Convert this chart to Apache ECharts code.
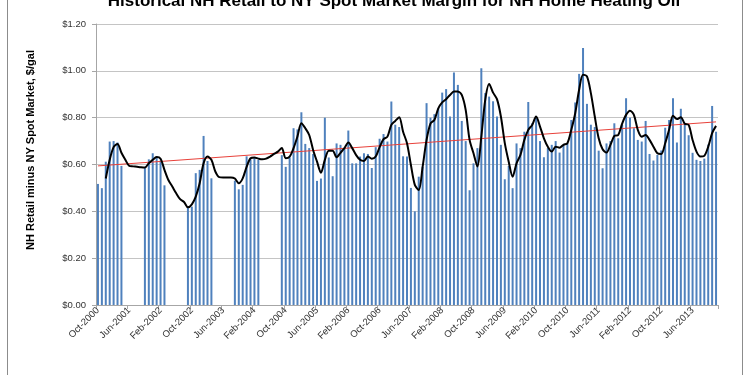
<!DOCTYPE html>
<html>
<head>
<meta charset="utf-8">
<script src="https://cdn.jsdelivr.net/npm/echarts@6/dist/echarts.min.js"></script>
<style>html,body{margin:0;padding:0;background:#fff}#c{width:750px;height:375px}</style>
</head>
<body>
<div id="c"></div>
<script>
// ---- categories (monthly, Oct-2000 .. Dec-2013) ----
const monthNames = ['Jan','Feb','Mar','Apr','May','Jun','Jul','Aug','Sep','Oct','Nov','Dec'];
const startYear = 2000, startMonthIndex = 9, monthCount = 159;
const categories = [];
for (let k = 0; k < monthCount; k++) {
  const m = startMonthIndex + k;
  categories.push(monthNames[m % 12] + '-' + (startYear + Math.floor(m / 12)));
}

// ---- monthly margin, $/gal (null = no data) ----
const margin = [
  0.517, 0.499, 0.612, 0.698, 0.700, 0.694, 0.594,
  null, null, null, null, null,
  0.588, 0.622, 0.648, 0.634, 0.617, 0.511,
  null, null, null, null, null,
  0.415, 0.420, 0.563, 0.577, 0.722, 0.615, 0.541,
  null, null, null, null, null,
  0.531, 0.494, 0.513, 0.635, 0.622, 0.630, 0.620,
  null, null, null, null, null,
  0.640, 0.590, 0.630,
  0.755, 0.750, 0.823, 0.688, 0.670, 0.645, 0.530, 0.540, 0.800, 0.630,
  0.550, 0.690, 0.684, 0.670, 0.745, 0.605, 0.605, 0.634, 0.648, 0.645,
  0.585, 0.674, 0.710, 0.730, 0.698, 0.869, 0.770, 0.760, 0.635, 0.634,
  0.500, 0.400, 0.548, 0.590, 0.862, 0.800, 0.815, 0.840, 0.907, 0.922,
  0.805, 0.993, 0.940, 0.786, 0.700, 0.490, 0.605, 0.670, 1.011, 0.905,
  0.890, 0.870, 0.805, 0.684, 0.537, 0.594, 0.499, 0.690, 0.670, 0.740,
  0.867, 0.776, 0.800, 0.700, 0.631, 0.670, 0.684, 0.700, 0.651, 0.684,
  0.690, 0.790, 0.865, 0.987, 1.097, 0.859, 0.770, 0.760, 0.659, 0.584,
  0.690, 0.700, 0.776, 0.712, 0.770, 0.883, 0.800, 0.755, 0.705, 0.698,
  0.786, 0.645, 0.617, 0.641, 0.660, 0.757, 0.790, 0.883, 0.694, 0.838,
  0.775, 0.725, 0.650, 0.620, 0.615, 0.625, 0.685, 0.850, 0.740
];

// ---- moving-average line ----
const movingAvg = [
  null, null, 0.540, 0.620, 0.674, 0.688, 0.650, 0.620, 0.594, 0.592,
  0.590, 0.588, 0.587, 0.605, 0.620, 0.632, 0.625, 0.577, 0.534, 0.506,
  0.477, 0.452, 0.440, 0.417, 0.430, 0.463, 0.520, 0.605, 0.634, 0.620,
  0.570, 0.546, 0.545, 0.545, 0.545, 0.540, 0.520, 0.541, 0.590, 0.627,
  0.630, 0.625, 0.622, 0.625, 0.634, 0.645, 0.655, 0.670, 0.627, 0.634,
  0.670, 0.720, 0.776, 0.755, 0.726, 0.662, 0.612, 0.565, 0.620, 0.659,
  0.659, 0.631, 0.650, 0.670, 0.694, 0.670, 0.640, 0.620, 0.615, 0.634,
  0.625, 0.634, 0.674, 0.708, 0.719, 0.769, 0.786, 0.802, 0.740, 0.691,
  0.598, 0.513, 0.491, 0.591, 0.705, 0.775, 0.790, 0.840, 0.865, 0.879,
  0.897, 0.912, 0.912, 0.897, 0.833, 0.705, 0.648, 0.591, 0.719, 0.876,
  0.944, 0.907, 0.879, 0.805, 0.691, 0.612, 0.548, 0.605, 0.641, 0.705,
  0.748, 0.769, 0.805, 0.762, 0.712, 0.676, 0.655, 0.676, 0.672, 0.684,
  0.691, 0.748, 0.819, 0.919, 0.983, 0.976, 0.905, 0.805, 0.712, 0.665,
  0.651, 0.684, 0.722, 0.726, 0.775, 0.812, 0.830, 0.812, 0.748, 0.719,
  0.726, 0.705, 0.676, 0.648, 0.645, 0.691, 0.748, 0.808, 0.794, 0.802,
  0.774, 0.769, 0.705, 0.655, 0.634, 0.637, 0.676, 0.734, 0.765
];

// ---- linear trend end points ----
const trendStart = 0.594, trendEnd = 0.782;
const trend = categories.map((c, i) => i === 0 ? trendStart : (i === monthCount - 1 ? trendEnd : null));

const titleText = 'Historical NH Retail to NY Spot Market Margin for NH Home Heating Oil';
const yAxisTitle = 'NH Retail minus NY Spot Market, $/gal';

const chart = echarts.init(document.getElementById('c'), null, {renderer: 'canvas'});
chart.setOption({
  animation: false,
  backgroundColor: '#fff',
  grid: {left: 96, right: 32, top: 24, bottom: 70, containLabel: false},
  graphic: [
    {type: 'rect', shape: {x: 7.5, y: -10, width: 735, height: 400}, style: {fill: 'none', stroke: '#8c8c8c', lineWidth: 1}, silent: true},
    {type: 'text', x: 394, y: 1, style: {text: titleText, font: 'bold 17px "Liberation Sans"', fill: '#000', align: 'center', verticalAlign: 'middle'}},
    {type: 'text', x: 31, y: 150, rotation: Math.PI / 2, style: {text: yAxisTitle, font: 'bold 11px "Liberation Sans"', fill: '#000', align: 'center', verticalAlign: 'middle'}}
  ],
  xAxis: {
    type: 'category',
    data: categories,
    boundaryGap: true,
    axisLine: {lineStyle: {color: '#a6a6a6', width: 1}},
    axisTick: {show: true, interval: 7, length: 4, alignWithLabel: false, lineStyle: {color: '#a6a6a6'}},
    axisLabel: {interval: 7, rotate: 45, margin: 4, fontFamily: 'Liberation Sans', fontSize: 9.5, color: '#333'},
    splitLine: {show: false}
  },
  yAxis: {
    type: 'value',
    min: 0, max: 1.2, interval: 0.2,
    axisLine: {show: true, lineStyle: {color: '#a6a6a6'}},
    axisTick: {show: true, length: 4, lineStyle: {color: '#a6a6a6'}},
    axisLabel: {formatter: v => '$' + v.toFixed(2), fontFamily: 'Liberation Sans', fontSize: 9.5, color: '#333', margin: 10},
    splitLine: {lineStyle: {color: '#c4c4c4', width: 1}}
  },
  series: [
    {type: 'bar', data: margin, barWidth: 2, itemStyle: {color: '#4F81BD'}, silent: true},
    {type: 'line', data: trend, connectNulls: true, showSymbol: false, symbol: 'none', lineStyle: {color: '#e8413a', width: 1}, silent: true},
    {type: 'line', data: movingAvg, connectNulls: true, showSymbol: false, symbol: 'none', smooth: 0.3, lineStyle: {color: '#000', width: 2}, silent: true}
  ]
});
</script>
</body>
</html>
